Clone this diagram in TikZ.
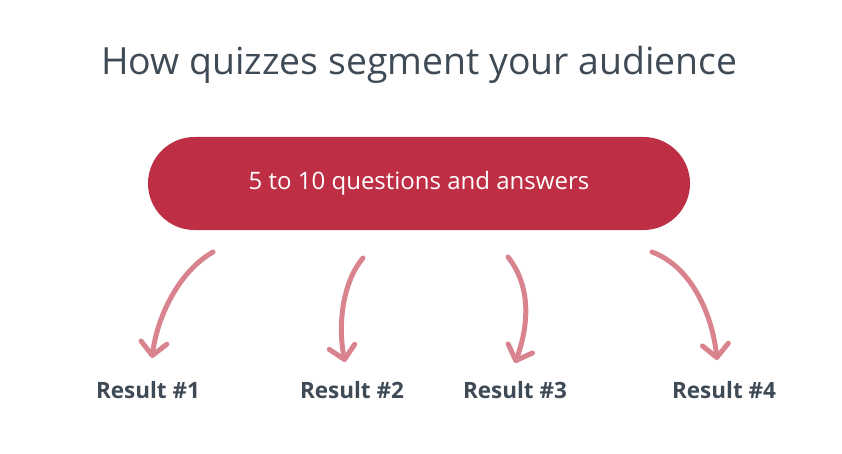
\documentclass[tikz,border=0pt]{standalone}
\usepackage{fontspec}
\setmainfont{Open Sans}
\usetikzlibrary{arrows.meta}
\definecolor{boxred}{HTML}{BE2F45}
\definecolor{arrowpink}{HTML}{D9838E}
\definecolor{darktext}{HTML}{3E4A56}
\tikzset{
  pill/.style={fill=boxred, draw=none, rounded corners=46.5pt, minimum width=542pt, minimum height=93pt, text=white, font=\fontsize{24}{28}\selectfont, inner sep=0pt},
  titletext/.style={text=darktext, font=\fontsize{37.4}{44}\selectfont, inner sep=0pt},
  resulttext/.style={text=darktext, font=\bfseries\fontsize{22.5}{26}\selectfont, inner sep=0pt},
  brush/.style={draw=arrowpink, line width=5pt, line cap=round, -{Straight Barb[length=13pt,width=26pt,line width=5pt,round]}}
}
\begin{document}
\begin{tikzpicture}[x=1pt,y=-1pt]
\path[use as bounding box] (0,0) rectangle (842,454);
\node[titletext] (title) at (419.5,65) {How quizzes segment your audience};
\node[pill] (box) at (419,183.5) {5 to 10 questions and answers};
\node[resulttext] (r1) at (148,390) {Result \#1};
\node[resulttext] (r2) at (352,390) {Result \#2};
\node[resulttext] (r3) at (515,390) {Result \#3};
\node[resulttext] (r4) at (724,390) {Result \#4};
\coordinate (s1) at (213,252); \coordinate (t1) at (152,358);
\coordinate (s2) at (363,258); \coordinate (t2) at (345,362);
\coordinate (s3) at (508,257); \coordinate (t3) at (515,363);
\coordinate (s4) at (652,252); \coordinate (t4) at (717,360);
\draw[brush] (s1) .. controls (178,272) and (157,318) .. (t1);
\draw[brush] (s2) .. controls (344,280) and (337,322) .. (t2);
\draw[brush] (s3) .. controls (530,285) and (530,322) .. (t3);
\draw[brush] (s4) .. controls (690,266) and (712,312) .. (t4);
\end{tikzpicture}
\end{document}
